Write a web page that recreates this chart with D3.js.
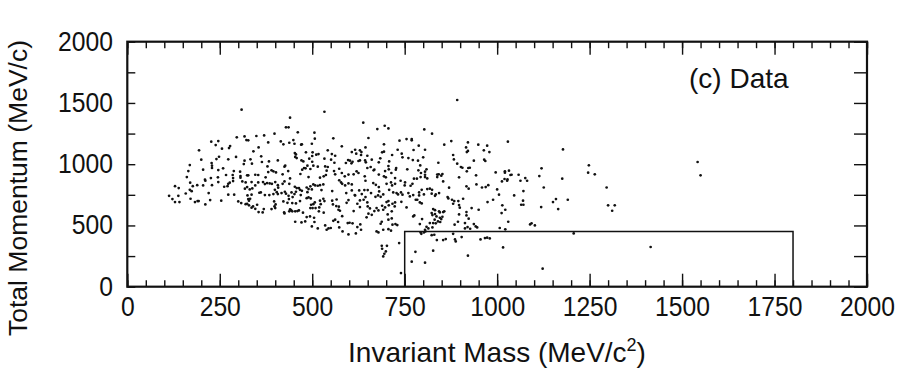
<!DOCTYPE html>
<html lang="en"><head>
<meta charset="utf-8">
<title>Invariant mass vs total momentum</title>
<script src="https://cdn.jsdelivr.net/npm/d3@7"></script>
<style>
body { margin: 0; background: #fff; }
text { font-family: "Liberation Sans", Arial, sans-serif; fill: #111; }
</style>
</head>
<body>
<script type="text/javascript">

var width = 903;
var height = 372;

// tick values (MeV, MeV/c)
var xMajor = [0, 250, 500, 750, 1000, 1250, 1500, 1750, 2000];
var xMinor = d3.range(0, 2001, 50);
var yLabels = [0, 500, 1000, 1500, 2000];
var yTicks = [0, 250, 500, 750, 1000, 1250, 1500, 1750, 2000];

// signal box: mass range and momentum cut
var boxMass = [750, 1800];
var boxMom = [0, 450];

// events [mass, momentum]
var events = [
[309,1445],[227,1184],[246,1189],[239,1156],[256,1127],[278,1148],[275,1132],[296,1219],[317,1227],[322,1197],
[327,1195],[349,1230],[370,1235],[398,1249],[381,1178],[194,1113],[341,1105],[355,1137],[200,1037],[248,1061],
[241,1042],[273,1040],[294,1059],[317,1029],[333,1040],[362,1064],[364,1018],[383,1023],[407,1031],[169,993],
[228,1010],[229,988],[229,969],[205,955],[246,952],[259,966],[288,944],[315,1001],[337,1004],[379,982],
[165,944],[161,895],[226,887],[245,893],[267,912],[285,912],[286,887],[305,939],[306,903],[306,890],
[324,909],[327,909],[346,914],[354,912],[374,893],[381,936],[390,950],[395,942],[402,933],[210,874],
// left, lower
[129,821],[139,805],[170,849],[177,821],[189,829],[205,827],[211,865],[229,829],[246,854],[262,816],
[271,821],[273,840],[277,849],[286,862],[311,859],[320,851],[324,813],[336,854],[346,827],[354,851],
[367,854],[372,838],[378,846],[385,843],[391,840],[400,854],[407,829],[408,808],[158,761],[169,791],
[174,780],[220,764],[113,742],[122,715],[129,691],[138,742],[141,691],[171,718],[183,691],[190,699],
[193,699],[211,672],[224,707],[254,702],[273,751],[289,751],[300,696],[308,683],[318,800],[325,745],
[331,794],[336,751],[338,802],[357,767],[361,770],[372,748],[384,748],[395,756],[399,791],[404,772],
[407,756],[327,715],[329,702],[332,718],[324,677],[329,664],[340,655],[346,636],[351,669],[355,609],
[366,606],[369,634],[320,674],[336,645],[390,634],[398,655],[400,642],[401,672],[397,696],
// centre, upper
[533,1428],[440,1380],[429,1301],[436,1301],[461,1260],[506,1257],[507,1208],[557,1211],[638,1339],[676,1287],
[696,1314],[706,1292],[652,1214],[736,1192],[415,1186],[422,1162],[438,1175],[449,1197],[452,1167],[470,1159],
[472,1162],[499,1167],[580,1146],[694,1162],[542,1113],[453,1091],[456,1080],[454,1059],[458,1050],[483,1097],
[501,1097],[500,1067],[511,1078],[517,1083],[492,1045],[471,1031],[476,1023],[533,1045],[553,1083],[562,1069],
[551,1037],[535,982],[542,977],[539,947],[560,1012],[616,1118],[619,1086],[607,1099],[629,1113],[633,1099],
[632,1075],[644,1137],[649,1069],[597,1034],[602,1029],[609,1020],[591,1010],[606,1007],[625,1026],[629,1031],
[643,1031],[645,1015],[661,1037],[658,977],[668,955],[680,1015],[684,1048],[689,1097],[694,1102],[706,985],
[708,1023],[716,1075],[731,1118],[727,969],[425,980],[427,988],[435,944],[420,917],[440,884],[468,920],
[473,955],[482,966],[478,969],[487,988],[495,961],[500,1020],[503,988],[515,980],[490,895],[521,890],
[531,901],[537,912],[559,944],[562,917],[573,963],[588,901],[580,928],[598,915],[612,917],[620,942],
[625,928],[642,901],[649,969],[666,950],[680,915],[697,944],[699,893],[694,901],[707,958],[714,928],
[724,887],[726,955],
// centre, lower
[425,859],[420,840],[438,840],[453,816],[458,805],[464,805],[467,791],[472,783],[485,810],[490,797],
[495,819],[503,835],[508,827],[515,824],[521,829],[530,835],[581,840],[589,827],[598,843],[607,835],
[573,868],[578,851],[644,865],[665,846],[672,832],[680,813],[713,851],[701,840],[716,827],[724,840],
[417,764],[426,775],[429,759],[436,742],[444,770],[447,732],[452,756],[456,775],[469,748],[487,772],
[499,794],[525,789],[554,781],[592,764],[607,786],[616,745],[627,786],[634,756],[641,789],[650,789],
[659,764],[671,734],[678,745],[685,734],[681,778],[692,753],[708,791],[719,770],[728,764],[732,753],
[422,696],[433,685],[437,715],[446,683],[456,680],[467,699],[485,723],[490,729],[496,721],[503,674],
[507,688],[497,669],[509,642],[495,642],[501,642],[521,702],[523,674],[530,718],[533,699],[519,647],
[518,615],[531,604],[554,702],[556,672],[566,712],[571,628],[572,653],[565,658],[575,620],[593,685],
[598,707],[615,748],[612,617],[629,704],[622,677],[629,650],[639,710],[644,732],[649,688],[650,655],
[656,639],[652,596],[668,617],[674,642],[679,623],[692,628],[689,661],[697,647],[701,691],[706,699],
[707,664],[717,677],[724,688],[723,655],[704,590],[715,615],[715,557],[424,606],[425,598],[440,631],
[438,615],[443,625],[446,615],[454,615],[460,617],[464,623],[475,604],[454,530],[471,525],[481,533],
[485,568],[494,574],[505,563],[506,528],[499,492],[515,476],[535,500],[539,465],[544,476],[550,479],
[557,538],[562,547],[570,528],[581,576],[582,451],[573,484],[596,519],[601,522],[609,517],[598,427],
[622,487],[630,508],[618,435],[632,465],[647,566],[661,587],[688,530],[685,514],[692,465],[674,451],
[679,443],[706,547],[717,506],[725,511],[730,503],[706,470],[713,457],[735,356],[688,334],[689,310],
[702,334],[699,288],[695,269],[692,247],
// right, upper
[892,1524],[803,1284],[824,1249],[755,1205],[769,1205],[769,1195],[788,1151],[805,1118],[774,1116],[857,1159],
[876,1189],[921,1178],[916,1137],[918,1099],[921,1108],[949,1159],[973,1151],[979,1099],[964,1113],[1029,1184],
[742,1086],[744,1056],[760,1050],[772,1034],[786,1029],[800,1056],[881,1075],[883,1039],[841,1012],[892,1004],
[902,977],[906,971],[937,1029],[965,1037],[968,1026],[792,990],[757,958],[787,950],[794,928],[805,939],
[809,958],[805,914],[793,895],[805,895],[838,915],[842,917],[852,920],[849,906],[838,895],[922,969],
[918,942],[926,971],[943,909],[897,893],[996,933],[1021,942],[1021,931],[1032,947],[1036,912],[1039,914],
[775,882],[783,882],[811,884],[1020,879],[1028,876],[1058,914],
// right, lower
[739,865],[751,851],[750,827],[766,824],[771,840],[740,770],[744,751],[741,693],[755,647],[760,764],
[764,737],[773,748],[780,710],[784,710],[791,688],[796,680],[789,745],[789,770],[802,753],[796,791],
[811,797],[818,800],[824,791],[823,759],[832,742],[834,753],[843,764],[854,859],[870,808],[866,732],
[868,721],[878,710],[884,699],[881,677],[895,699],[908,718],[897,666],[899,645],[917,819],[923,800],
[944,835],[959,810],[969,813],[976,829],[974,691],[989,710],[1000,794],[1005,751],[1013,859],[1027,865],
[1046,745],[1014,664],[1012,601],[1022,628],[1030,530],[1007,479],[1022,468],[950,628],[931,642],[917,609],
[917,582],[923,555],[913,519],[920,487],[927,473],[937,511],[942,492],[946,484],[913,476],[897,590],
[894,530],[885,506],[827,634],[832,625],[823,601],[825,585],[832,593],[843,615],[845,606],[854,609],
[857,615],[836,574],[845,563],[849,552],[831,547],[840,533],[834,517],[846,528],[852,571],[827,519],
[818,519],[825,484],[814,476],[805,465],[809,489],[791,511],[797,552],[773,574],[776,582],[793,443],
[802,443],[806,451],[795,432],[823,421],[830,424],[837,381],[854,381],[861,389],[881,432],[886,386],
[888,370],[904,405],[955,386],[967,397],[973,400],[980,394],[1016,321],[921,253],[827,294],[779,285],
[769,204],[805,196],[740,111],
// high mass tail
[1178,1121],[1120,966],[1248,991],[1246,931],[1264,917],[1114,903],[1176,882],[1076,887],
[1063,865],[1081,865],[1126,810],[1071,781],[1070,702],[1065,669],[1071,669],[1119,650],[1151,691],[1159,715],
[1191,710],[1165,634],[1093,517],[1089,508],[1102,500],[1207,435],[1296,810],[1300,664],[1318,664],[1311,620],
[1123,147],[1542,1018],[1550,909],[1415,324]
];

var x = d3.scaleLinear().domain([0, 2000]).range([127.3, 867]);
var y = d3.scaleLinear().domain([0, 2000]).range([286.7, 41.7]);

var svg = d3.select("body").append("svg")
    .attr("width", width)
    .attr("height", height);

function noDomain(g){ g.select(".domain").remove(); }

// minor ticks, bottom and top
svg.append("g")
    .attr("transform", "translate(0," + y(0) + ")")
    .call(d3.axisBottom(x).tickValues(xMinor).tickSize(-6.5).tickFormat(""))
    .call(noDomain);
svg.append("g")
    .attr("transform", "translate(0," + y(2000) + ")")
    .call(d3.axisTop(x).tickValues(xMinor).tickSize(-6.5).tickFormat(""))
    .call(noDomain);

// major ticks with labels
svg.append("g")
    .attr("class", "xaxis")
    .attr("transform", "translate(0," + y(0) + ")")
    .call(d3.axisBottom(x).tickValues(xMajor).tickSize(-13).tickPadding(9).tickFormat(d3.format("d")))
    .call(noDomain);
svg.append("g")
    .attr("transform", "translate(0," + y(2000) + ")")
    .call(d3.axisTop(x).tickValues(xMajor).tickSize(-13).tickFormat(""))
    .call(noDomain);

svg.append("g")
    .attr("transform", "translate(" + x(0) + ",0)")
    .call(d3.axisLeft(y).tickValues(yTicks).tickSize(-8).tickFormat(""))
    .call(noDomain);
svg.append("g")
    .attr("class", "yaxis")
    .attr("transform", "translate(" + x(0) + ",0)")
    .call(d3.axisLeft(y).tickValues(yLabels).tickSize(0).tickPadding(15).tickFormat(d3.format("d")))
    .call(noDomain);
svg.append("g")
    .attr("transform", "translate(" + x(2000) + ",0)")
    .call(d3.axisRight(y).tickValues(yTicks).tickSize(-13).tickFormat(""))
    .call(noDomain);

svg.selectAll(".tick line").attr("stroke", "#111").attr("stroke-width", 1.4);
svg.selectAll(".xaxis text, .yaxis text")
    .style("font-size", "26px")
    .style("font-family", "'Liberation Sans', Arial, sans-serif")
    .attr("fill", "#111");
// the original lettering is a little taller than it is wide
svg.selectAll(".xaxis text").attr("transform", "scale(0.95,1.08)");
svg.selectAll(".yaxis text").attr("transform", "scale(0.95,1.08)").attr("dy", "0.3em");

// frame
svg.append("rect")
    .attr("x", x(0)).attr("y", y(2000))
    .attr("width", x(2000) - x(0)).attr("height", y(0) - y(2000))
    .attr("fill", "none").attr("stroke", "#111").attr("stroke-width", 2.2);

// signal box
svg.append("path")
    .attr("d", "M" + x(boxMass[0]) + "," + y(boxMom[0]) +
               "V" + y(boxMom[1]) + "H" + x(boxMass[1]) + "V" + y(boxMom[0]))
    .attr("fill", "none").attr("stroke", "#111").attr("stroke-width", 1.5);

// events
svg.append("g").selectAll("circle")
    .data(events)
    .enter()
    .append("circle")
    .attr("cx", function(d){ return x(d[0]); })
    .attr("cy", function(d){ return y(d[1]); })
    .attr("r", 1.35)
    .attr("fill", "#111");

svg.append("text")
    .attr("x", 689).attr("y", 88)
    .style("font-size", "28px")
    .text("(c) Data");

var xt = svg.append("text")
    .attr("x", 497).attr("y", 362)
    .attr("text-anchor", "middle")
    .style("font-size", "28px")
    .text("Invariant Mass (MeV/c");
xt.append("tspan").attr("dy", -11).style("font-size", "18px").text("2");
xt.append("tspan").attr("dy", 11).text(")");

svg.append("text")
    .attr("transform", "translate(27,188) rotate(-90)")
    .attr("text-anchor", "middle")
    .style("font-size", "26.5px")
    .text("Total Momentum (MeV/c)");

</script>
</body></html>
